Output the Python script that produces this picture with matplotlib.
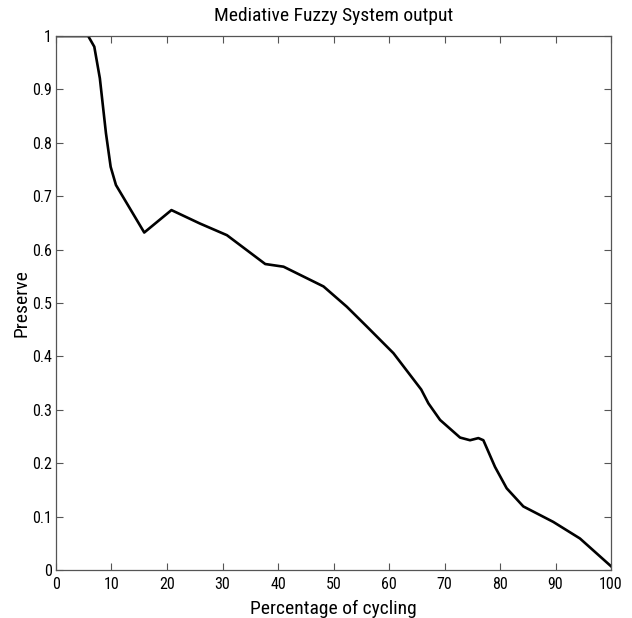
import matplotlib
matplotlib.use("Agg")
import matplotlib.pyplot as plt
import numpy as np

# values
cycling = [0, 5.8, 6.9, 7.9, 9.0, 9.85, 10.8, 15.9, 20.8, 25.9, 30.8, 37.7, 41.0,
           48.2, 52.4, 56.0, 60.8, 65.8, 67.1, 69.2, 72.8, 74.6, 76.1, 77.0,
           79.1, 81.2, 84.2, 89.6, 94.4, 100]
preserve = [1.0, 1.0, 0.98, 0.921, 0.818, 0.755, 0.721, 0.632, 0.674, 0.649, 0.627,
            0.573, 0.568, 0.531, 0.493, 0.456, 0.406, 0.338, 0.312, 0.281, 0.248,
            0.243, 0.247, 0.243, 0.193, 0.153, 0.119, 0.090, 0.059, 0.007]

xticks = np.arange(0, 101, 10)
yticks = [0, 0.1, 0.2, 0.3, 0.4, 0.5, 0.6, 0.7, 0.8, 0.9, 1]
yticklabels = ["0", "0.1", "0.2", "0.3", "0.4", "0.5", "0.6", "0.7", "0.8", "0.9", "1"]

plt.rcParams["font.family"] = ["Roboto Condensed", "Liberation Sans", "DejaVu Sans"]

fig = plt.figure(figsize=(6.32, 6.18), dpi=100)
ax = fig.add_axes([0.0886, 0.0777, 0.8782, 0.864])

ax.plot(cycling, preserve, color="black", linewidth=1.9)

ax.set_xlim(0, 100)
ax.set_ylim(0, 1)
ax.set_xticks(xticks)
ax.set_yticks(yticks)
ax.set_yticklabels(yticklabels)
ax.tick_params(direction="in", length=5, width=0.8, top=True, right=True,
               labelsize=11.5, color="#555555", pad=3)
ax.tick_params(axis="x", pad=5)
for s in ax.spines.values():
    s.set_linewidth(0.9)
    s.set_color("#555555")

ax.set_title("Mediative Fuzzy System output", fontsize=14, pad=11)
ax.set_xlabel("Percentage of cycling", fontsize=14, labelpad=6)
ax.set_ylabel("Preserve", fontsize=14, labelpad=1)

fig.savefig("out.png", dpi=100)
